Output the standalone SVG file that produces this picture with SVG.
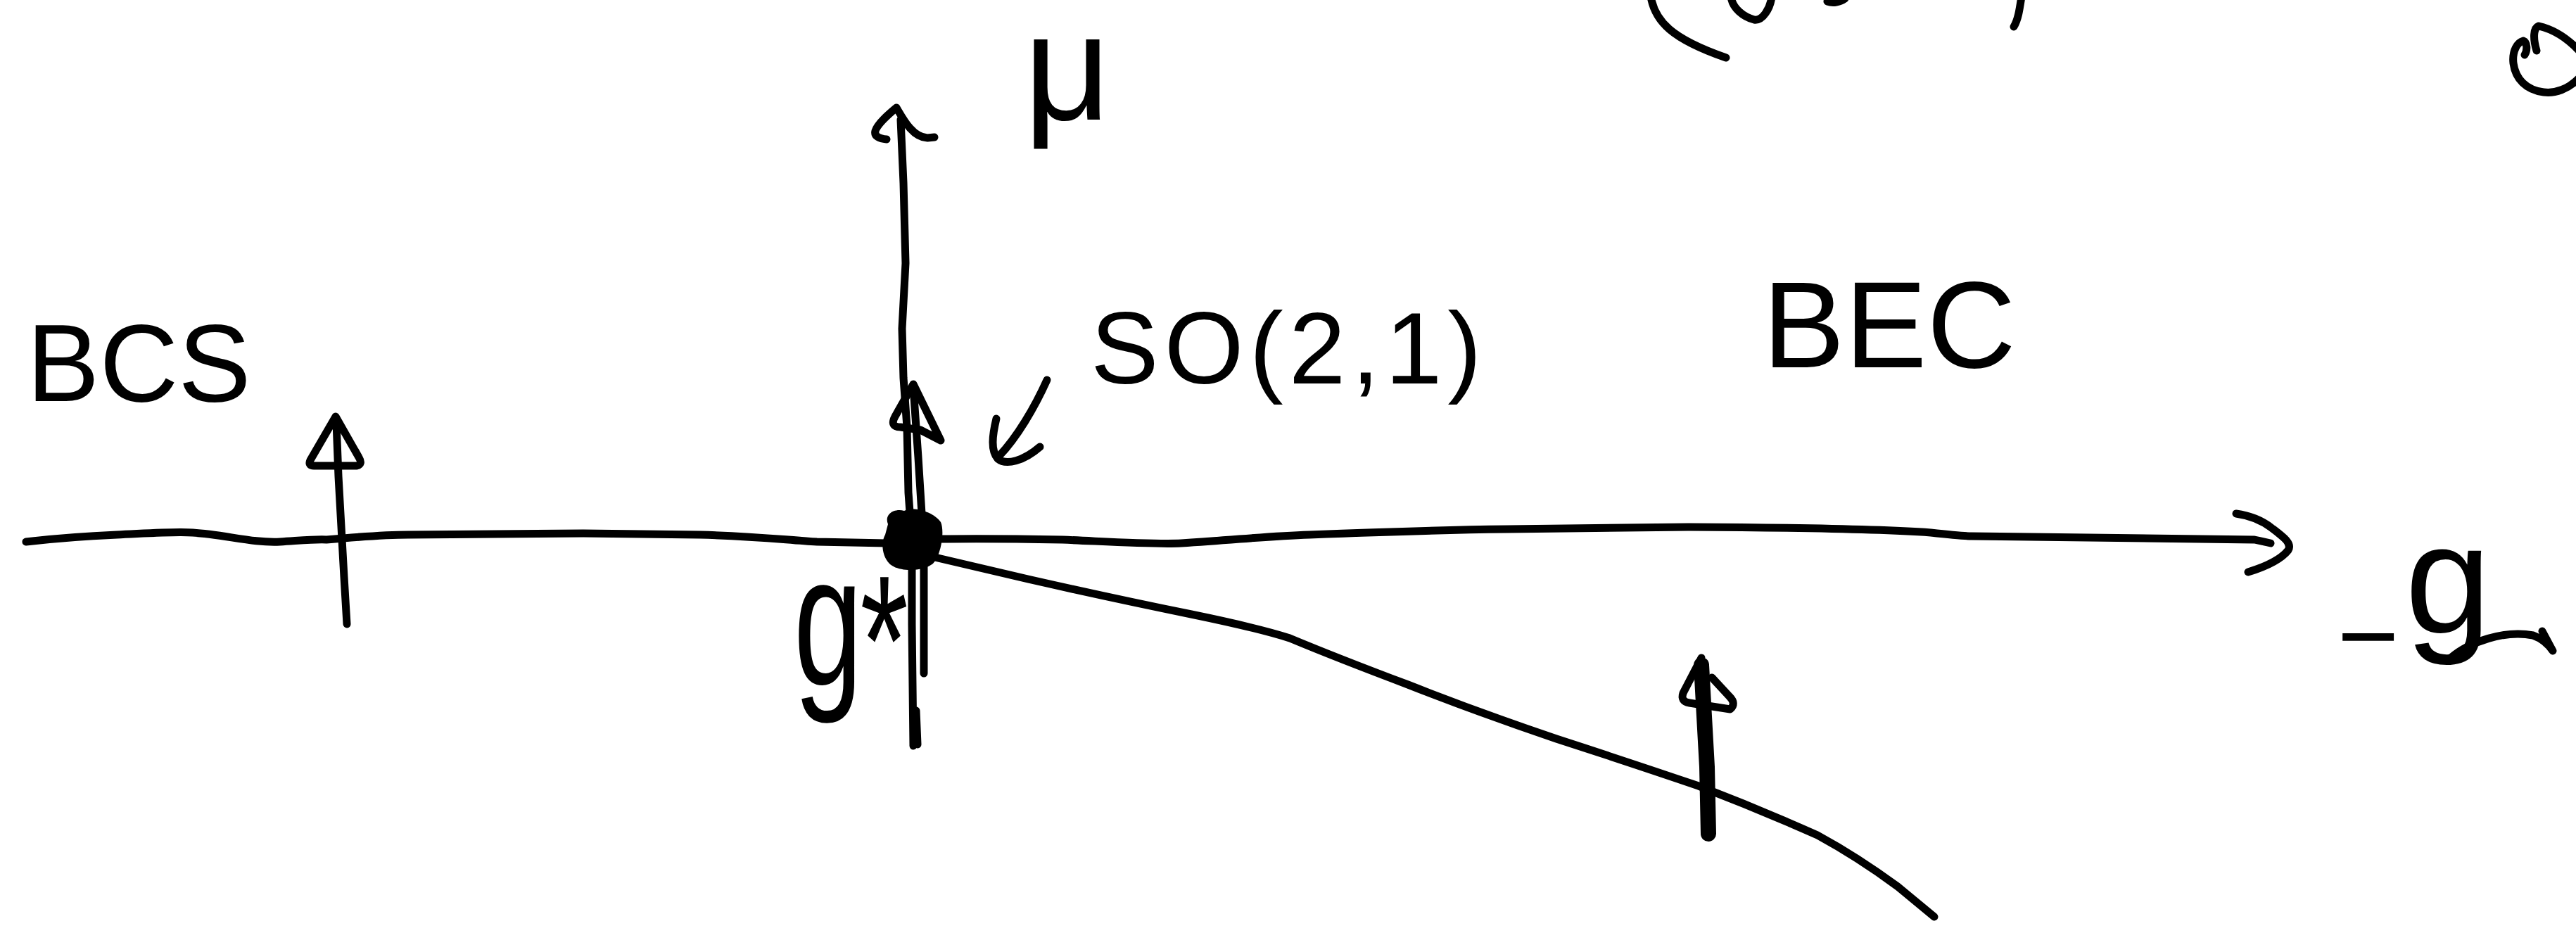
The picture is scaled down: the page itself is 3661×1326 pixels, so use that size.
<svg xmlns="http://www.w3.org/2000/svg" width="3661" height="1326" viewBox="0 0 3661 1326">
<style>
.s{fill:none;stroke:#000;stroke-width:11;stroke-linecap:round;stroke-linejoin:round}
.th{stroke-width:22}
.t{font-family:"Liberation Sans",Arial,sans-serif;fill:#000}
</style>
<rect width="3661" height="1326" fill="#fff"/>
<g id="connectors">
  <path id="g-axis" class="s" d="M37,770 C80,765 120,762 166,760 C210,758 250,755 274,757 C320,760 360,772 398,770 C430,768 450,766 464,767 C520,762 560,760 580,760 L829,758 L995,760 C1080,762 1120,768 1161,770 L1260,772 L1335,766 C1400,765 1460,766 1510,767 C1580,770 1640,774 1679,772 C1760,767 1800,762 1861,760 C1960,756 2060,753 2142,752 L2400,749 C2600,750 2700,754 2744,757 C2780,761 2790,762 2802,762 L3204,767 L3227,772"/>
  <path class="s" d="M3178,730 C3200,733 3215,740 3228,750 C3245,763 3258,772 3252,782 C3240,797 3218,806 3195,813"/>
  <path id="mu-axis" class="s" d="M1280,170 L1284,260 L1287,374 L1282,467 L1284,537 L1289,607 L1291,700 L1296,770 L1296,887 L1298,1060"/>
  <path class="s" d="M1260,198 C1250,197 1242,194 1244,186 C1247,176 1262,163 1274,153 C1284,170 1297,195 1318,196 L1328,195"/>
  <path class="s" d="M1302,1010 L1304,1058"/>
  <path id="flow-up" class="s" d="M1298,550 L1305,650 L1310,730 L1313,800 L1313,957"/>
  <path class="s" d="M1298,546 L1272,592 Q1264,607 1280,607 L1308,611 L1337,626 Z"/>
  <path id="curve" class="s" d="M1320,790 L1461,823 Q1580,850 1693,873 Q1790,893 1833,907 Q1900,935 2001,973 Q2100,1012 2212,1050 Q2320,1085 2414,1117 Q2500,1150 2583,1187 Q2640,1218 2697,1260 L2749,1303"/>
  <path id="flow-bcs" class="s" d="M478,600 L481,677 L489,820 L493,887"/>
  <path class="s" d="M477,592 L441,654 Q437,663 448,662 L507,662 Q516,660 510,650 Z"/>
  <path id="flow-bec" class="s th" d="M2418,945 L2421,1000 L2426,1090 L2428,1185"/>
  <path class="s" d="M2418,935 L2392,985 Q2388,997 2401,999 L2459,1008 Q2468,1000 2458,990 L2433,963"/>
  <path id="so-pointer" class="s" d="M1488,540 C1470,580 1445,622 1420,648"/>
  <path class="s" d="M1416,595 C1410,620 1408,640 1418,652 C1430,662 1455,655 1478,635"/>
</g>
<g id="fixed-point">
  <path d="M1262,745 C1256,730 1272,722 1285,726 C1297,719 1327,727 1337,742 C1343,756 1337,790 1326,801 C1311,813 1276,813 1264,801 C1253,790 1252,770 1258,760 Z" fill="#000"/>
</g>
<g id="label-mu"><text class="t" x="1455" y="170" font-size="215">μ</text></g>
<g id="label-bcs"><text class="t" x="38" y="570" font-size="155">BCS</text></g>
<g id="label-so21"><text class="t" x="1550" y="545" font-size="145" letter-spacing="8">SO(2,1)</text></g>
<g id="label-bec"><text class="t" x="2505" y="522" font-size="175">BEC</text></g>
<g id="label-gstar"><text class="t" transform="translate(1128,973) scale(0.8,1.2)" font-size="220">g<tspan x="118" y="24" font-size="220">*</tspan></text></g>
<g id="label-minus-g">
  <text class="t"><tspan x="3322" y="955" font-size="150">−</tspan><tspan x="3418" y="899" font-size="220">g</tspan></text>
  <path class="s" d="M3483,935 C3510,912 3560,895 3600,903 C3614,908 3622,916 3628,925 M3613,897 L3628,925"/>
</g>
<g id="top-fragments">
  <path class="s" d="M2346,-5 C2352,30 2375,55 2453,82"/>
  <path class="s" d="M2460,-5 C2462,12 2478,24 2493,28 C2505,30 2516,12 2518,-5"/>
  <path class="s" d="M2597,2 C2605,5 2615,3 2622,-2"/>
  <path class="s" d="M2873,-5 C2870,15 2868,28 2862,38"/>
  <path class="s" d="M3605,72 C3600,55 3600,40 3608,37 C3630,42 3650,55 3668,75 M3668,108 C3650,128 3630,133 3615,131 C3590,128 3575,112 3572,90 C3570,72 3578,60 3586,58 C3592,60 3592,72 3588,78"/>
</g>
</svg>
